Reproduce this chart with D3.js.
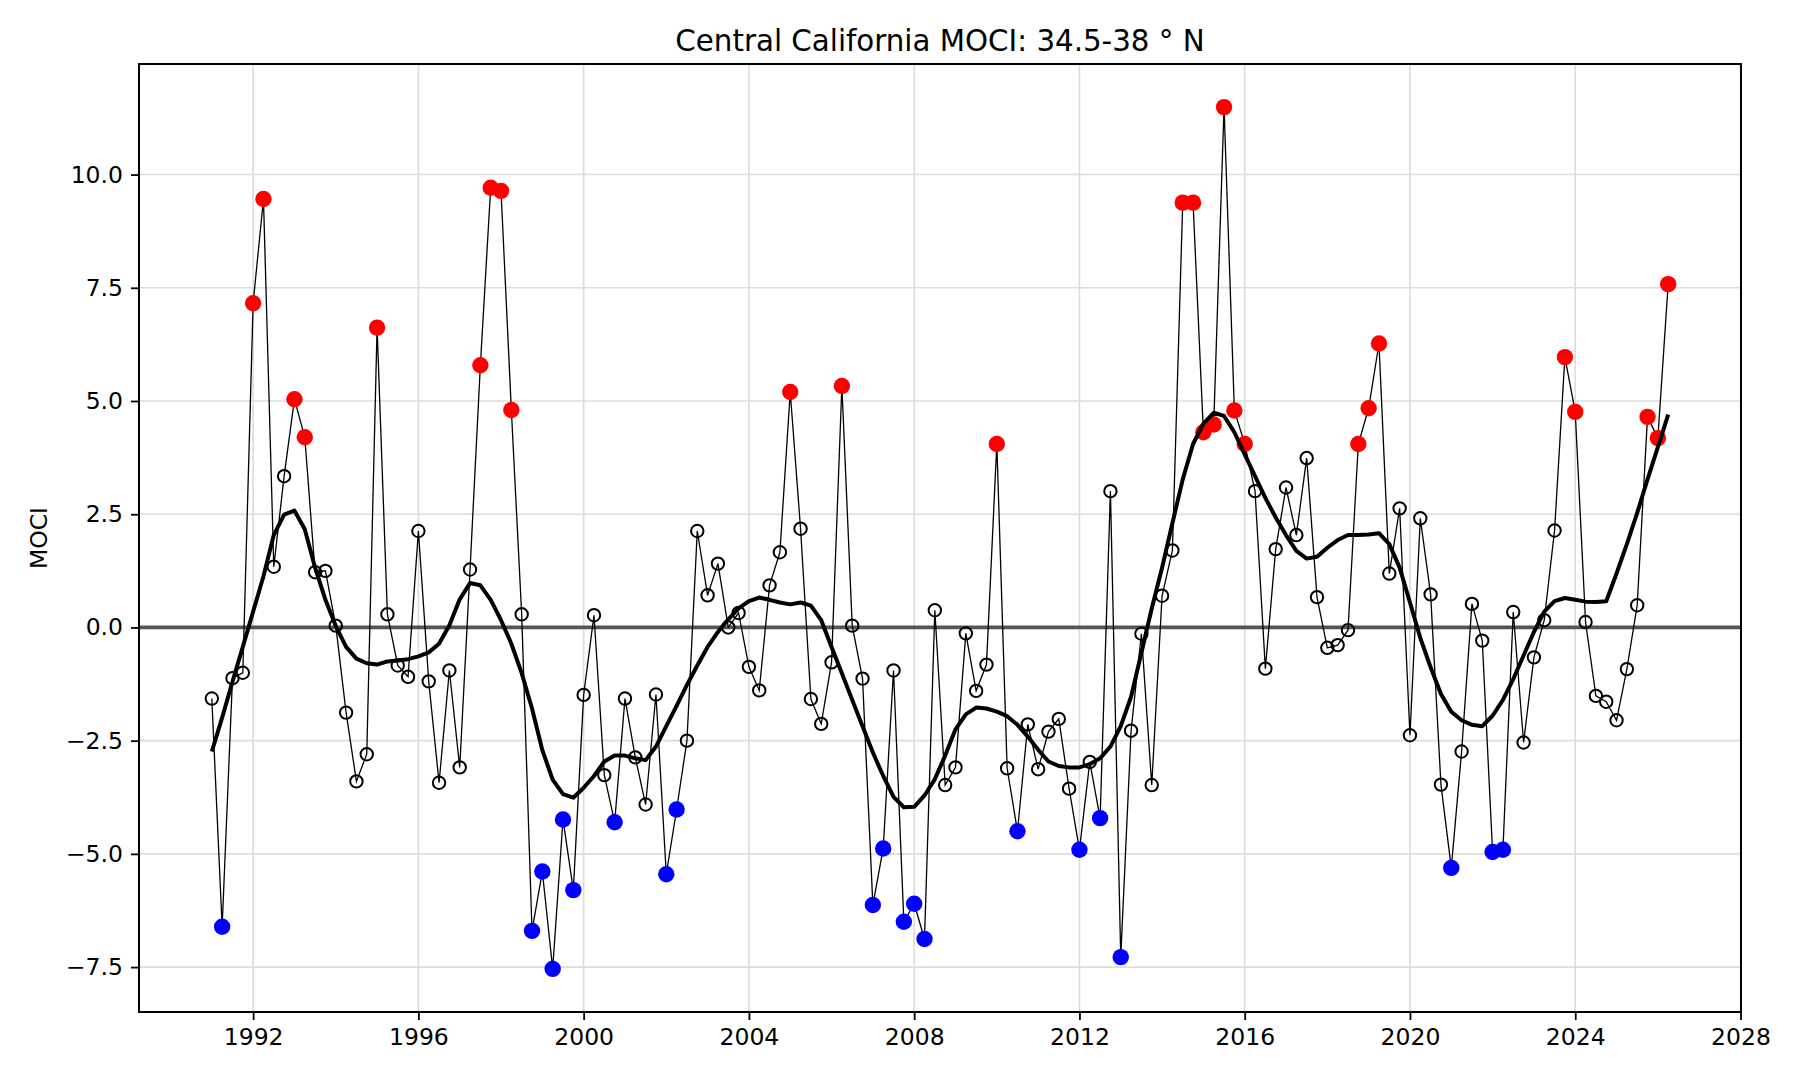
<!DOCTYPE html>
<html>
<head>
<meta charset="utf-8">
<script src="https://cdn.jsdelivr.net/npm/d3@7"></script>
<style>
  body { margin: 0; background: #fff; }
  svg text { font-family: "DejaVu Sans", sans-serif; fill: #000; }
</style>
</head>
<body>
<div id="chart"></div>
<script>
// quarterly MOCI values, first quarter 1991 to second quarter 2026
var startYear = 1991;
var moci = [
  -1.57, -6.61, -1.12, -1.00,   // 1991
   7.16,  9.46,  1.34,  3.34,   // 1992
   5.04,  4.20,  1.22,  1.25,   // 1993
   0.04, -1.88, -3.40, -2.80,   // 1994
   6.62,  0.29, -0.84, -1.09,   // 1995
   2.13, -1.19, -3.43, -0.95,   // 1996
  -3.09,  1.28,  5.79,  9.71,   // 1997
   9.64,  4.80,  0.29, -6.70,   // 1998
  -5.39, -7.54, -4.24, -5.80,   // 1999
  -1.49,  0.27, -3.26, -4.30,   // 2000
  -1.57, -2.87, -3.91, -1.48,   // 2001
  -5.45, -4.02, -2.50,  2.13,   // 2002
   0.71,  1.41,  0.00,  0.32,   // 2003
  -0.87, -1.39,  0.93,  1.66,   // 2004
   5.20,  2.18, -1.58, -2.13,   // 2005
  -0.77,  5.33,  0.04, -1.13,   // 2006
  -6.13, -4.88, -0.95, -6.50,   // 2007
  -6.10, -6.88,  0.38, -3.48,   // 2008
  -3.09, -0.13, -1.40, -0.82,   // 2009
   4.05, -3.11, -4.50, -2.14,   // 2010
  -3.13, -2.30, -2.02, -3.56,   // 2011
  -4.91, -2.97, -4.21,  3.01,   // 2012
  -7.28, -2.28, -0.14, -3.48,   // 2013
   0.70,  1.70,  9.38,  9.38,   // 2014
   4.31,  4.48, 11.49,  4.79,   // 2015
   4.05,  3.01, -0.91,  1.73,   // 2016
   3.09,  2.04,  3.74,  0.67,   // 2017
  -0.45, -0.39, -0.06,  4.05,   // 2018
   4.84,  6.27,  1.19,  2.63,   // 2019
  -2.38,  2.41,  0.73, -3.47,   // 2020
  -5.31, -2.74,  0.52, -0.29,   // 2021
  -4.96, -4.91,  0.34, -2.54,   // 2022
  -0.66,  0.16,  2.14,  5.97,   // 2023
   4.76,  0.12, -1.51, -1.64,   // 2024
  -2.05, -0.92,  0.49,  4.65,   // 2025
   4.18,  7.58                  // 2026
];

// smoothed curve, same quarters
var smooth = [
  -2.74, -1.99, -1.20, -0.43,
   0.35,  1.13,  2.04,  2.49,
   2.58,  2.17,  1.32,  0.61,
   0.03, -0.43, -0.69, -0.79,
  -0.82, -0.75, -0.73, -0.70,
  -0.64, -0.55, -0.36,  0.05,
   0.62,  0.98,  0.93,  0.61,
   0.16, -0.36, -1.01, -1.79,
  -2.71, -3.36, -3.68, -3.76,
  -3.54, -3.28, -2.96, -2.83,
  -2.83, -2.89, -2.93, -2.63,
  -2.18, -1.73, -1.27, -0.84,
  -0.43, -0.10,  0.18,  0.42,
   0.58,  0.66,  0.61,  0.55,
   0.51,  0.55,  0.48,  0.16,
  -0.43, -1.01, -1.60, -2.18,
  -2.76, -3.28, -3.74, -3.97,
  -3.96, -3.71, -3.35, -2.83,
  -2.25, -1.92, -1.77, -1.79,
  -1.86, -1.96, -2.15, -2.41,
  -2.70, -2.96, -3.06, -3.09,
  -3.09, -3.02, -2.89, -2.63,
  -2.18, -1.53, -0.56,  0.42,
   1.32,  2.30,  3.27,  4.05,
   4.50,  4.74,  4.67,  4.31,
   3.82,  3.34,  2.86,  2.43,
   2.04,  1.69,  1.52,  1.56,
   1.76,  1.93,  2.04,  2.04,
   2.05,  2.08,  1.84,  1.32,
   0.55, -0.23, -0.88, -1.47,
  -1.86, -2.05, -2.15, -2.18,
  -1.95, -1.60, -1.14, -0.62,
  -0.10,  0.35,  0.58,  0.65,
   0.61,  0.57,  0.56,  0.58,
   1.19,  1.84,  2.53,  3.27,
   3.98,  4.70
];

var xTicks = [1992, 1996, 2000, 2004, 2008, 2012, 2016, 2020, 2024, 2028];
var yTicks = [-7.5, -5.0, -2.5, 0.0, 2.5, 5.0, 7.5, 10.0];
var threshold = 4;

var data = moci.map(function(v, i) {
  return { t: startYear + i / 4, v: v, s: smooth[i] };
});

var W = 1800, H = 1080;
var margin = { top: 64, right: 59, bottom: 68, left: 139 };
var width = W - margin.left - margin.right,
    height = H - margin.top - margin.bottom;

// matplotlib-like 5% margins
var tExt = d3.extent(data, function(d) { return d.t; });
var vExt = d3.extent(data, function(d) { return d.v; });
var tPad = (tExt[1] - tExt[0]) * 0.05, vPad = (vExt[1] - vExt[0]) * 0.05;

var x = d3.scaleLinear().domain([tExt[0] - tPad, tExt[1] + tPad]).range([0, width]);
var y = d3.scaleLinear().domain([vExt[0] - vPad, vExt[1] + vPad]).range([height, 0]);

var svg = d3.select("#chart").append("svg")
    .attr("width", W)
    .attr("height", H);

var g = svg.append("g")
    .attr("transform", "translate(" + margin.left + "," + margin.top + ")");

// grid
g.append("g")
  .selectAll("line.gx")
  .data(xTicks)
  .enter().append("line")
    .attr("x1", function(d) { return x(d); })
    .attr("x2", function(d) { return x(d); })
    .attr("y1", 0).attr("y2", height)
    .attr("stroke", "#dcdcdc").attr("stroke-width", 1.6);

g.append("g")
  .selectAll("line.gy")
  .data(yTicks)
  .enter().append("line")
    .attr("x1", 0).attr("x2", width)
    .attr("y1", function(d) { return y(d); })
    .attr("y2", function(d) { return y(d); })
    .attr("stroke", "#dcdcdc").attr("stroke-width", 1.6);

// zero line
g.append("line")
    .attr("x1", 0).attr("x2", width)
    .attr("y1", y(0)).attr("y2", y(0))
    .attr("stroke", "#555555").attr("stroke-width", 3.8);

// thin line through all quarters
var line = d3.line()
    .x(function(d) { return x(d.t); })
    .y(function(d) { return y(d.v); });

g.append("path")
    .datum(data)
    .attr("d", line)
    .attr("fill", "none")
    .attr("stroke", "#000")
    .attr("stroke-width", 1.3);

// open markers for normal values
g.selectAll(".open")
  .data(data.filter(function(d) { return Math.abs(d.v) <= threshold; }))
  .enter().append("circle")
    .attr("class", "open")
    .attr("cx", function(d) { return x(d.t); })
    .attr("cy", function(d) { return y(d.v); })
    .attr("r", 6.2)
    .attr("fill", "none")
    .attr("stroke", "#000")
    .attr("stroke-width", 2);

// filled markers for strong anomalies
g.selectAll(".hot")
  .data(data.filter(function(d) { return Math.abs(d.v) > threshold; }))
  .enter().append("circle")
    .attr("class", "hot")
    .attr("cx", function(d) { return x(d.t); })
    .attr("cy", function(d) { return y(d.v); })
    .attr("r", 8.2)
    .attr("fill", function(d) { return d.v > 0 ? "#ff0000" : "#0000ff"; });

// smoothed curve
var sline = d3.line()
    .x(function(d) { return x(d.t); })
    .y(function(d) { return y(d.s); });

g.append("path")
    .datum(data)
    .attr("d", sline)
    .attr("fill", "none")
    .attr("stroke", "#000")
    .attr("stroke-width", 4)
    .attr("stroke-linejoin", "round");

// axes
var xAxis = g.append("g")
    .attr("transform", "translate(0," + height + ")")
    .call(d3.axisBottom(x).tickValues(xTicks).tickFormat(d3.format("d"))
      .tickSize(8).tickPadding(8));

var yAxis = g.append("g")
    .call(d3.axisLeft(y).tickValues(yTicks)
      .tickFormat(function(d) { return d < 0 ? "\u2212" + d3.format(".1f")(-d) : d3.format(".1f")(d); })
      .tickSize(8).tickPadding(8));

[xAxis, yAxis].forEach(function(a) {
  a.select(".domain").remove();
  a.selectAll(".tick line").attr("stroke", "#000").attr("stroke-width", 1.8);
  a.selectAll(".tick text").style("font-size", "23.5px").attr("fill", "#000");
});

// frame
g.append("rect")
    .attr("width", width).attr("height", height)
    .attr("fill", "none")
    .attr("stroke", "#000")
    .attr("stroke-width", 2);

// title and label
svg.append("text")
    .attr("x", margin.left + width / 2)
    .attr("y", 51)
    .attr("text-anchor", "middle")
    .style("font-size", "29.3px")
    .text("Central California MOCI: 34.5-38 \u00b0 N");

svg.append("text")
    .attr("transform", "translate(47," + (margin.top + height / 2) + ") rotate(-90)")
    .attr("text-anchor", "middle")
    .style("font-size", "23.5px")
    .text("MOCI");
</script>
</body>
</html>
